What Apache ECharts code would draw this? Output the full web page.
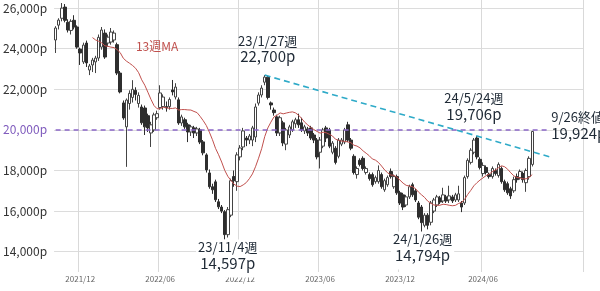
<!DOCTYPE html>
<html><head><meta charset="utf-8">
<script src="https://cdn.jsdelivr.net/npm/echarts@6/dist/echarts.min.js"></script>
<style>html,body{margin:0;padding:0;background:#fff}#c{width:600px;height:291px}</style>
</head><body><div id="c"></div>
<script>
// weekly candles, first week 2021/10/08, last week 2024/09/27 (9/26 close)
const firstWeek = '2021-10-08';
const totalWeeks = 172; // axis length incl. empty space on the right
const open  = [24430,25160,25500,26050,25300,24900,25400,25070,23980,23350,24280,22950,23200,23350,23540,24080,24770,24280,24330,24430,24200,22800,21330,20150,21300,21600,21950,21300,21130,21080,20700,19850,20000,20600,21100,21150,21150,21150,21970,21620,21480,20340,20500,20250,19900,20100,19850,20000,19410,18770,17880,17200,17440,16460,16200,15970,14840,15800,17700,17450,18670,19160,19600,19500,19500,19650,21320,21720,22350,22600,21330,20980,20640,19850,20350,19300,19750,20000,20300,20500,20350,19950,20050,20100,19750,19500,18900,19200,20100,20000,18900,19100,18700,19300,19400,20250,19500,18700,17800,18500,18600,17900,17800,17800,17450,17450,17800,17050,17300,17950,17200,17700,16900,16800,16300,16700,17300,17000,16400,16200,15300,15800,15450,16000,16300,16650,16500,16700,16550,16700,16550,16550,16400,16400,17700,18400,18900,19600,18550,17850,18150,17800,17700,18000,17750,18100,17450,17350,17100,17000,17700,17650,17850,17400,17700,18300];
const close = [25020,25410,26000,25400,24920,25350,25070,24080,23790,24180,23300,23150,23440,23540,24560,24920,23590,24570,24820,24770,22800,21870,20590,21470,21800,22000,21750,21700,20350,20150,20100,20250,20740,20800,21820,21620,21080,21500,21870,22110,20340,20640,20150,19900,20150,19850,20050,19400,18870,18030,17200,17050,16560,16210,16000,14840,16070,17500,17500,18770,19110,19950,19500,19700,20100,21130,21720,22060,22600,21600,21230,20850,19850,20600,19360,20000,20150,20400,20500,20250,20000,20150,19850,19600,19500,18670,19500,20000,19600,19200,19350,18400,19500,19500,20000,19500,19100,17900,18100,18300,18100,18100,17600,17300,17650,18000,17200,17500,17650,17700,17700,16900,16400,16200,16700,17200,16800,16550,15700,15430,15800,15300,16400,16550,16700,16450,16800,16500,16750,16500,16800,16850,16200,17650,18500,19000,19500,18670,18150,18250,17900,17700,18100,17850,18300,17450,17050,16900,16750,17550,17550,17950,17550,18000,18600,19924];
const low   = [23790,24950,25350,25300,24800,24700,24950,24000,23200,23250,23100,22700,22850,22800,23400,23950,23500,24100,24200,24300,22700,21800,20500,18180,21000,21350,21450,21100,20250,19750,19900,19160,19900,20500,21000,21000,20900,21000,21700,21500,20250,20200,20050,19400,19700,19600,19700,19300,18750,17900,17100,16850,16450,16100,15900,14597,14700,15700,17200,17000,18500,19000,19200,19300,19200,19400,21200,21600,22200,21500,21000,20700,19700,19700,19200,19000,19600,19900,20100,20100,19900,19800,19700,19500,19350,18550,18100,19100,19400,19100,18800,18300,18600,19200,19300,19400,19000,17800,17600,18200,18000,17800,17500,17200,17350,17350,17100,16950,17200,17600,17100,16800,16300,16050,16200,16600,16700,16450,15600,14794,15200,15100,15300,15900,16200,16350,16400,16400,16400,16400,16450,16450,15950,16300,17600,18300,18800,18550,18050,17700,17800,17600,17600,17750,17650,17350,16950,16800,16600,16900,17400,17550,17400,16950,17550,18200];
const high  = [25110,25500,26250,26200,25450,25450,25650,25150,24050,24300,24400,23250,23550,23650,24700,25070,24950,24700,25020,24900,24300,22900,21450,21550,21950,22450,22100,21850,21250,21200,20800,20400,20850,20950,22200,21750,21400,21600,22460,22300,21600,20750,20600,20350,20250,20200,20150,20100,19500,18850,18050,17350,17550,16600,16300,16050,16200,17600,18000,18900,19250,20100,19700,19800,20200,21300,21850,22200,22700,22650,21400,21100,20750,20700,20450,20100,20250,20500,20600,20800,20600,20250,20150,20200,19850,19600,19650,20100,20200,20100,19450,19200,19600,19600,20100,20400,19600,18800,18200,18600,18700,18200,17900,17900,17750,18250,17900,17600,17750,18100,17800,17800,17000,16900,16800,17300,17400,17100,16500,16300,15900,15900,16500,16650,16800,16750,17150,16800,17250,16800,16900,17250,16500,17750,18600,19100,19600,19706,18650,18400,18250,17900,18200,18100,18400,18200,17550,17450,17200,17700,17850,18050,17950,18100,18700,19950];
const maWeeks = 13;
const yTicks = [14000,16000,18000,20000,22000,24000,26000];
const keyLevel = 20000;
const xLabelMonths = [6, 12];
// annotations: [week index, price, date text, price text]
const notes = [
  [68, 22700, '23/1/27週', '22,700p'],
  [55, 14597, '23/11/4週', '14,597p'],
  [119, 14794, '24/1/26週', '14,794p'],
  [137, 19706, '24/5/24週', '19,706p'],
  [155, 19924, '9/26終値', '19,924p']
];
const trendFrom = [68, 22700];
const trendTo = [161, 18660];

const FONT = '"Noto Sans CJK JP","Noto Sans",sans-serif';
const pad = n => (n < 10 ? '0' : '') + n;
const cats = [];
{
  const d0 = new Date(firstWeek + 'T00:00:00Z');
  for (let i = 0; i < totalWeeks; i++) {
    const d = new Date(d0.getTime() + i * 7 * 86400000);
    cats.push(d.getUTCFullYear() + '/' + pad(d.getUTCMonth() + 1) + '/' + pad(d.getUTCDate()));
  }
}
const isMark = (idx) => {
  if (idx >= close.length) return false;
  const p = cats[idx].split('/');
  return xLabelMonths.indexOf(+p[1]) >= 0 && +p[2] <= 7;
};
const candles = open.map((o, i) => [o, close[i], low[i], high[i]]);
const ma = close.map((c, i) => {
  if (i < maWeeks - 1) return '-';
  let s = 0;
  for (let k = i - maWeeks + 1; k <= i; k++) s += close[k];
  return Math.round(s / maWeeks);
});
const fmt = v => v.toLocaleString('en-US') + 'p';

const noteCfg = [
  {offset: [3, -26]},
  {offset: [3, 19], bg: true},
  {offset: [1, 15], bg: true},
  {offset: [-3, -29]},
  {offset: [19, -6], left: true}
];
const markPts = notes.map((n, k) => ({
  coord: [cats[n[0]], n[1]],
  symbol: 'rect', symbolSize: 0,
  itemStyle: {color: 'rgba(0,0,0,0)'},
  label: {
    show: true, position: 'inside',
    align: noteCfg[k].left ? 'left' : 'center',
    offset: noteCfg[k].offset,
    formatter: '{d|' + n[2] + '}\n{v|' + n[3] + '}',
    backgroundColor: noteCfg[k].bg ? '#fff' : 'transparent',
    padding: noteCfg[k].bg ? [0, 2, 6, 2] : 0,
    rich: {
      d: {fontSize: 13, lineHeight: 15, color: '#1f2a36', fontFamily: FONT, align: noteCfg[k].left ? 'left' : 'center'},
      v: {fontSize: 15, lineHeight: 17, color: '#1f2a36', fontFamily: FONT, align: noteCfg[k].left ? 'left' : 'center'}
    }
  }
}));
markPts.push({
  coord: [cats[33], 24130], symbol: 'rect', symbolSize: 0,
  itemStyle: {color: 'rgba(0,0,0,0)'},
  label: {show: true, position: 'inside', formatter: '13週MA', fontSize: 12, color: '#c0504d', fontFamily: FONT}
});

const chart = echarts.init(document.getElementById('c'));
chart.setOption({
  animation: false,
  grid: {left: 52, right: 17, top: 0, bottom: 19},
  xAxis: {
    type: 'category', data: cats, boundaryGap: true,
    axisLine: {show: false}, axisTick: {show: false},
    axisLabel: {interval: (i) => isMark(i), formatter: v => v.slice(0, 7), fontSize: 8, color: '#666', margin: 3, fontFamily: FONT},
    splitLine: {show: true, interval: (i) => isMark(i), lineStyle: {color: '#d9d9d9', width: 1}}
  },
  yAxis: {
    type: 'value', min: 13000, max: 26400, interval: 1000,
    axisLine: {show: false}, axisTick: {show: false},
    axisLabel: {
      margin: 7, fontSize: 12, color: '#333', fontFamily: FONT,
      formatter: v => yTicks.indexOf(v) < 0 ? '' : (v === keyLevel ? '{p|' + fmt(v) + '}' : fmt(v)),
      rich: {p: {color: '#7f5bbd', fontSize: 12, fontFamily: FONT}}
    },
    splitLine: {show: true, lineStyle: {color: ['rgba(0,0,0,0)', '#dcdcdc'], width: 1}}
  },
  series: [
    {
      type: 'candlestick', data: candles, barWidth: 3,
      itemStyle: {color: '#ffffff', color0: '#2e2e2e', borderColor: '#444444', borderColor0: '#2e2e2e', borderWidth: 1},
      emphasis: {disabled: true},
      markLine: {
        silent: true, symbol: ['none', 'none'], label: {show: false},
        data: [
          [{coord: [cats[0], keyLevel], lineStyle: {color: '#8a66c8', width: 1.6, type: [5, 4]}}, {coord: [cats[160], keyLevel]}],
          [{coord: [cats[trendFrom[0]], trendFrom[1]], lineStyle: {color: '#2eaac8', width: 1.6, type: [6, 4]}}, {coord: [cats[trendTo[0]], trendTo[1]]}]
        ]
      },
      markPoint: {silent: true, data: markPts}
    },
    {
      type: 'line', data: ma, showSymbol: false, symbol: 'none',
      lineStyle: {color: '#c0504d', width: 1}, itemStyle: {color: '#c0504d'}, z: 3, silent: true
    }
  ]
});
</script></body></html>
